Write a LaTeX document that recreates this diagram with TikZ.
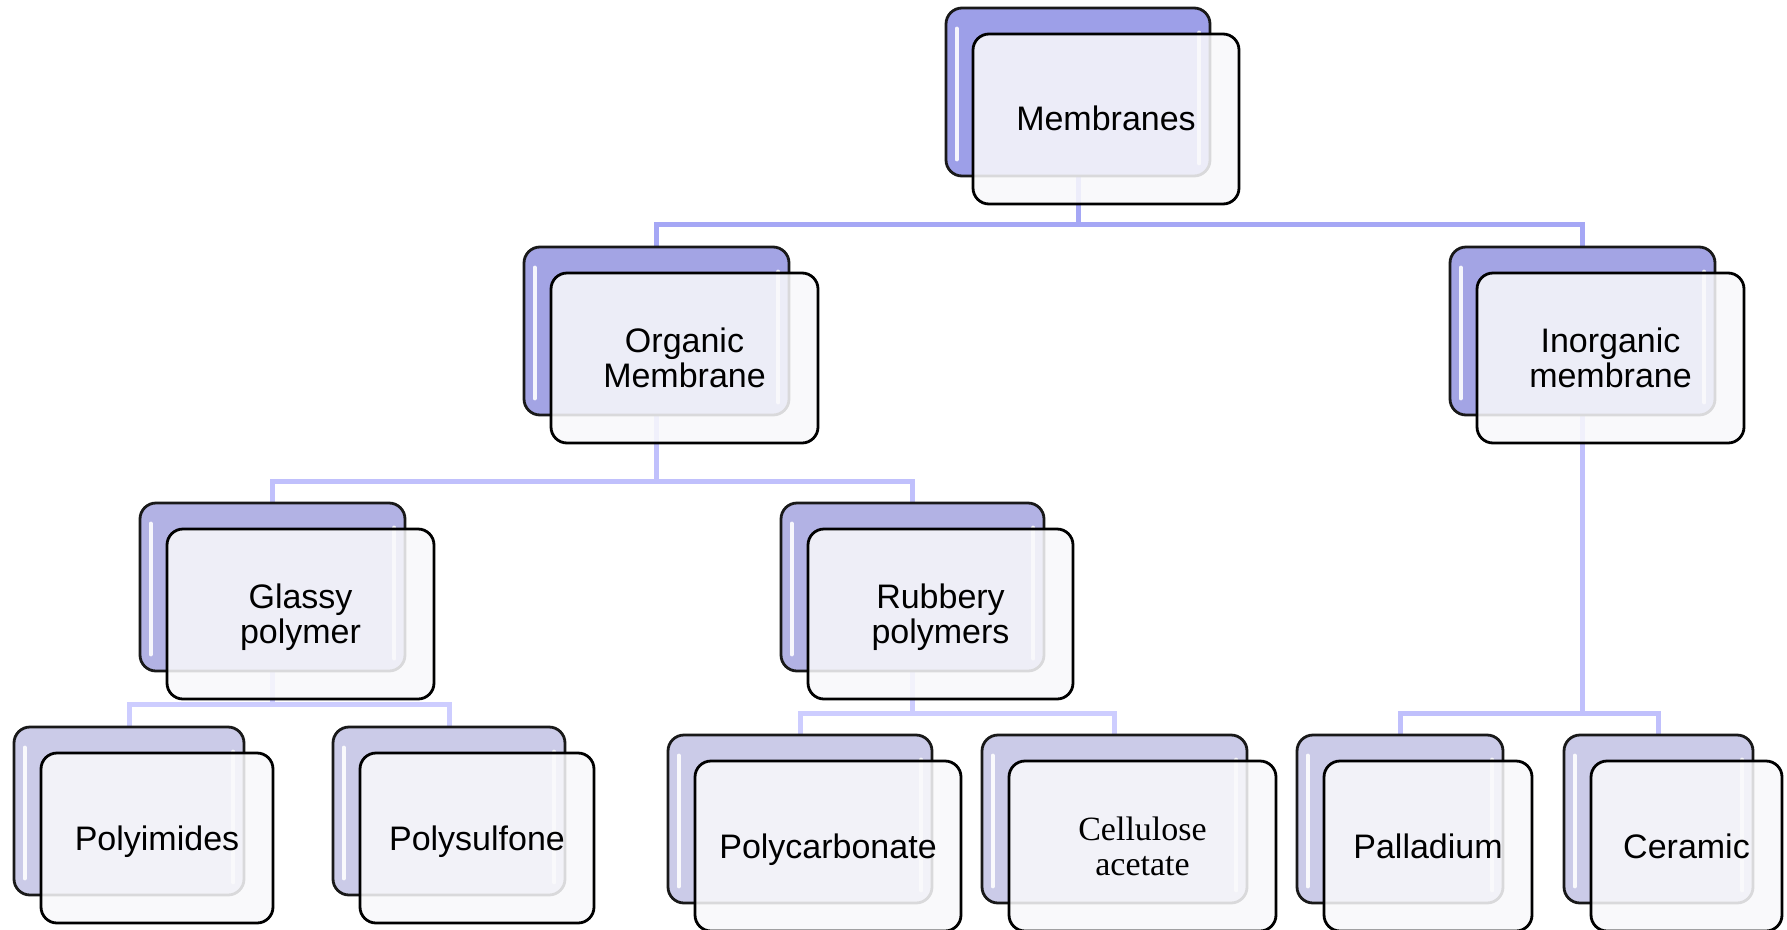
\documentclass[tikz,border=0pt]{standalone}
\usepackage{fontspec}
\setmainfont{Liberation Sans}
\newfontfamily\serifA{Liberation Serif}
\usetikzlibrary{calc}
\pgfdeclarelayer{bg}
\pgfsetlayers{bg,main}
\definecolor{bk0}{RGB}{157,159,232}
\definecolor{bk1}{RGB}{163,164,228}
\definecolor{bk2}{RGB}{178,178,228}
\definecolor{bk3}{RGB}{203,203,232}
\definecolor{ln0}{RGB}{165,167,245}
\definecolor{ln1}{RGB}{192,192,252}
\definecolor{ln2}{RGB}{205,205,255}
\definecolor{frontfill}{RGB}{249,249,251}
\tikzset{
 backbox/.style={draw=black!90, line width=2.8pt, rounded corners=16pt, minimum height=168pt, inner sep=0pt},
 frontbox/.style={draw=black, line width=2.8pt, rounded corners=16pt, fill=frontfill, fill opacity=0.86, minimum height=170pt, inner sep=0pt},
 lbl/.style={align=center, font=\fontsize{34}{35}\selectfont, inner sep=0pt, text=black},
 hl/.style={white, line width=4pt, line cap=round, opacity=0.9},
 conA/.style={draw=ln0, line width=5pt},
 conB/.style={draw=ln1, line width=5pt},
 conC/.style={draw=ln2, line width=5pt},
}
\newcommand\duo[7]{%
 \node[backbox, fill=#5, minimum width=#4pt] (#1b) at (#2,#3) {};
 \draw[hl] ([xshift=12pt,yshift=-22pt]#1b.north west) -- ([xshift=12pt,yshift=18pt]#1b.south west);
 \draw[hl] ([xshift=-12pt,yshift=-26pt]#1b.north east) -- ([xshift=-12pt,yshift=14pt]#1b.south east);
 \node[frontbox, minimum width=#4pt+2pt] (#1) at (#2+28,#3+27) {};
 \node[lbl] (#1t) at (#2+28,#3+27+#7) {#6};
}
\begin{document}
\begin{tikzpicture}[x=1pt,y=-1pt]
\useasboundingbox (0,0) rectangle (1787,929);
\duo{M}{1078}{92}{264}{bk0}{Membranes}{-1}
\duo{O}{656.5}{331}{265}{bk1}{Organic\\Membrane}{0}
\duo{I}{1582.5}{331}{265}{bk1}{Inorganic\\membrane}{0}
\duo{G}{272.5}{587}{265}{bk2}{Glassy\\polymer}{3}
\duo{R}{912.5}{587}{263}{bk2}{Rubbery\\polymers}{3}
\duo{Pi}{129}{811}{230}{bk3}{Polyimides}{3.5}
\duo{Ps}{449}{811}{232}{bk3}{Polysulfone}{3.5}
\duo{Pc}{800}{819}{264}{bk3}{Polycarbonate}{3.5}
\duo{Ca}{1114.5}{819}{265}{bk3}{{\serifA Cellulose}\\{\serifA acetate}}{0}
\duo{Pd}{1400}{819}{206}{bk3}{Palladium}{0}
\duo{Ce}{1658.5}{819}{189}{bk3}{Ceramic}{0}
\begin{pgfonlayer}{bg}
\fill[white] (0,0) rectangle (1787,929);
\coordinate (busM) at (1078,224);
\coordinate (busO) at (656.5,481);
\coordinate (busI) at (1582.5,713);
\coordinate (busG) at (272.5,704);
\coordinate (busR) at (912.5,713);
\draw[conA] (Mb.south) -- (busM);
\draw[conA] (Ob.north) |- (busM) -| (Ib.north);
\draw[conB] (Ob.south) -- (busO);
\draw[conB] (Gb.north) |- (busO) -| (Rb.north);
\draw[conB] (Ib.south) -- (busI);
\draw[conB] (Pdb.north) |- (busI) -| (Ceb.north);
\draw[conC] (Gb.south) -- (busG);
\draw[conC] (Pib.north) |- (busG) -| (Psb.north);
\draw[conC] (Rb.south) -- (busR);
\draw[conC] (Pcb.north) |- (busR) -| (Cab.north);
\end{pgfonlayer}
\end{tikzpicture}
\end{document}
